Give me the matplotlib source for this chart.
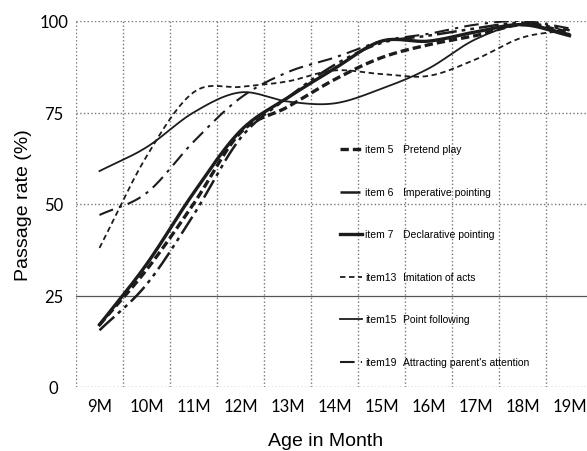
import numpy as np
import matplotlib
matplotlib.use("Agg")
import matplotlib.pyplot as plt

# values
months = [9, 10, 11, 12, 13, 14, 15, 16, 17, 18, 19]
month_labels = ["%dM" % m for m in months]

item5 = [17, 32, 50, 69.5, 76.5, 84, 90, 93.5, 96, 99, 97]
item6 = [15.5, 28, 47, 68, 79, 88, 94, 96, 98, 99.5, 97.5]
item7 = [17, 33.5, 53, 70, 79, 87, 94.5, 94.5, 97, 99, 96]
item13 = [38, 63, 80.5, 82, 83.5, 86.5, 85.5, 85, 89.5, 95.5, 97.5]
item15 = [59, 65.5, 75, 80.5, 78, 77.5, 81.5, 87, 95, 99, 96.5]
item19 = [47, 53, 67, 79, 86, 90, 94.5, 96.5, 99, 100, 98]

item_ids = ["item 5", "item 6", "item 7", "item13", "item15", "item19"]
item_names = ["Pretend play", "Imperative pointing", "Declarative pointing",
              "Imitation of acts", "Point following", "Attracting parent's attention"]
series = [item5, item6, item7, item13, item15, item19]

styles = [
    dict(ls=(0, (2.5, 1.2)), lw=2.4),
    dict(ls=(0, (8, 2, 1.5, 2, 1.5, 2)), lw=1.8),
    dict(ls="-", lw=2.4),
    dict(ls=(0, (3, 2)), lw=1.3),
    dict(ls="-", lw=1.3),
    dict(ls=(0, (7, 3, 1.5, 3)), lw=1.5),
]


def smooth(x, y, n=30):
    # catmull-rom style smoothing, like the spreadsheet "smoothed line"
    x = np.asarray(x, float)
    y = np.asarray(y, float)
    m = np.gradient(y, x)
    xs, ys = [], []
    for i in range(len(x) - 1):
        h = x[i + 1] - x[i]
        t = np.linspace(0, 1, n, endpoint=False)
        h00 = 2 * t**3 - 3 * t**2 + 1
        h10 = t**3 - 2 * t**2 + t
        h01 = -2 * t**3 + 3 * t**2
        h11 = t**3 - t**2
        xs.append(x[i] + t * h)
        ys.append(h00 * y[i] + h10 * h * m[i] + h01 * y[i + 1] + h11 * h * m[i + 1])
    xs.append([x[-1]])
    ys.append([y[-1]])
    return np.concatenate(xs), np.concatenate(ys)


fig = plt.figure(figsize=(5.87, 4.52), dpi=100)
ax = fig.add_axes([76 / 587, 64 / 452, 517 / 587, 366 / 452])

for vals, st in zip(series, styles):
    sx, sy = smooth(months, vals)
    ax.plot(sx, sy, color="#1c1c1c", linestyle=st["ls"], linewidth=st["lw"])

ax.set_xlim(8.5, 19.5)
ax.set_ylim(0, 100)

# grid: dotted lines between categories, darker line at 25
for gx in np.arange(8.5, 19, 1.0):
    ax.axvline(gx, color="#777777", linestyle=":", linewidth=1.0, zorder=0)
for gy in [0, 50, 75, 100]:
    ax.axhline(gy, color="#777777", linestyle=":", linewidth=1.0, zorder=0)
ax.axhline(25, color="#555555", linewidth=0.9, zorder=0)

for s in ax.spines.values():
    s.set_visible(False)

ax.set_xticks(months)
ax.set_xticklabels(month_labels, fontsize=12, family="Lato")
ax.set_yticks([0, 25, 50, 75, 100])
ax.set_yticklabels(["0", "25", "50", "75", "100"], fontsize=12, family="Lato")
ax.tick_params(axis="both", length=0)
ax.tick_params(axis="x", pad=8)
ax.tick_params(axis="y", pad=16)
for lbl in ax.get_yticklabels():
    lbl.set_horizontalalignment("center")

ax.set_ylabel("Passage rate (%)", fontsize=14, family="Liberation Sans")
ax.yaxis.set_label_coords(-0.085, 0.5)
ax.set_xlabel("Age in Month", fontsize=14, family="Liberation Sans")
ax.xaxis.set_label_coords(0.4836, -0.124)

# legend drawn inside the plot area
y0 = 0.650
step = 0.1163
for k, (iid, name, st) in enumerate(zip(item_ids, item_names, styles)):
    yy = y0 - k * step
    ax.plot([0.5106, 0.553], [yy, yy], transform=ax.transAxes, color="#1c1c1c",
            linestyle=st["ls"], linewidth=st["lw"], clip_on=False)
    ax.text(0.559, yy, iid, transform=ax.transAxes, fontsize=7.5,
            family="Liberation Sans", va="center", ha="left")
    ax.text(0.6325, yy, name, transform=ax.transAxes, fontsize=7.5,
            family="Liberation Sans", va="center", ha="left")

fig.savefig("out.png", dpi=100)
